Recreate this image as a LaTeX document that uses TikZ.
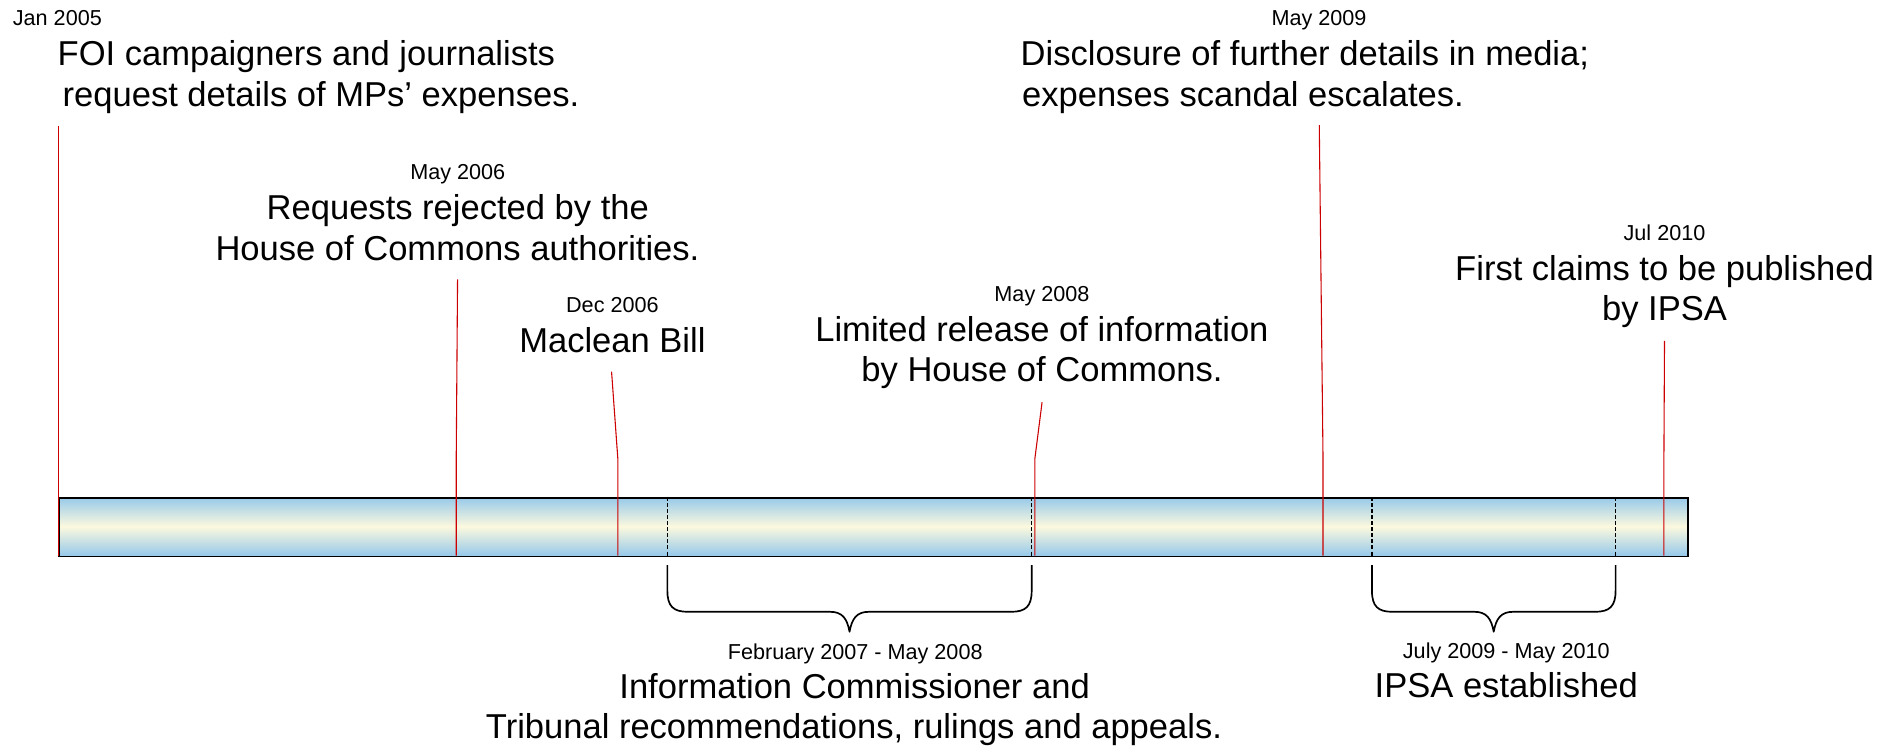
\documentclass[tikz,border=0pt]{standalone}
\usepackage{fontspec}
\setmainfont{Liberation Sans}
\definecolor{barblue}{RGB}{150,201,234}
\definecolor{barcream}{RGB}{252,249,222}
\definecolor{evred}{RGB}{204,0,0}
\tikzset{
  datelbl/.style={font=\fontsize{17.9}{21}\selectfont, inner sep=0pt, anchor=base},
  evlbl/.style={font=\fontsize{28.6}{34}\selectfont, inner sep=0pt, anchor=base},
  evline/.style={evred, line width=0.9pt},
  spanline/.style={black, line width=0.9pt, dash pattern=on 3.3pt off 1.7pt},
  bracket/.style={black, line width=1.4pt, line join=round},
}
\begin{document}
\begin{tikzpicture}[x=1pt,y=-1pt]
\useasboundingbox (0,0) rectangle (1568,620.1);
% bar
\shade[top color=barblue, bottom color=barblue, middle color=barcream] (48.4,411.6) rectangle (1397,460);
\node[draw=black, line width=1.2pt, inner sep=0pt, minimum width=1348.6pt, minimum height=48.4pt, anchor=north west] (bar) at (48.4,411.6) {};
% dashed span marks
\coordinate (f07t) at (552.5,411.6); \coordinate (f07b) at (552.5,460);
\coordinate (m08t) at (854.1,411.6); \coordinate (m08b) at (854.1,460);
\coordinate (j09t) at (1135.8,411.6); \coordinate (j09b) at (1135.8,460);
\coordinate (m10t) at (1337.5,411.6); \coordinate (m10b) at (1337.5,460);
\draw[spanline] (f07t) -- (f07b);
\draw[spanline] (m08t) -- (m08b);
\draw[spanline] (j09t) -- (j09b);
\draw[spanline] (m10t) -- (m10b);
% event texts
\node[datelbl] (d1) at (47.5,21.3) {Jan 2005};
\node[evlbl, anchor=base west] (t1a) at (47.6,54.4) {FOI campaigners and journalists};
\node[evlbl, anchor=base west] (t1b) at (51.7,87.8) {request details of MPs’ expenses.};
\node[datelbl] (d2) at (379,148.5) {May 2006};
\node[evlbl] (t2a) at (379,182) {Requests rejected by the};
\node[evlbl] (t2b) at (378.7,215.3) {House of Commons authorities.};
\node[datelbl] (d3) at (507,258.9) {Dec 2006};
\node[evlbl] (t3a) at (507,292) {Maclean Bill};
\node[datelbl] (d4) at (862.6,249.8) {May 2008};
\node[evlbl] (t4a) at (862.6,283) {Limited release of information};
\node[evlbl] (t4b) at (862.6,316) {by House of Commons.};
\node[datelbl] (d5) at (1092,21.3) {May 2009};
\node[evlbl, anchor=base west] (t5a) at (844.8,54.4) {Disclosure of further details in media;};
\node[evlbl, anchor=base west] (t5b) at (846,87.8) {expenses scandal escalates.};
\node[datelbl] (d6) at (1378,199.5) {Jul 2010};
\node[evlbl] (t6a) at (1378,232.3) {First claims to be published};
\node[evlbl] (t6b) at (1378,265.6) {by IPSA};
% event lines
\coordinate (l1t) at (48.4,104); \coordinate (l1b) at (48.4,460);
\coordinate (l2t) at (378.8,231.3); \coordinate (l2m) at (377.7,380); \coordinate (l2b) at (377.7,460);
\coordinate (l3t) at (506.3,307.7); \coordinate (l3m) at (511.5,380); \coordinate (l3b) at (511.5,460);
\coordinate (l4t) at (862.7,333); \coordinate (l4m) at (856.7,380); \coordinate (l4b) at (856.7,460);
\coordinate (l5t) at (1092.2,103.5); \coordinate (l5m) at (1095.3,380); \coordinate (l5b) at (1095.3,460);
\coordinate (l6t) at (1378,282.3); \coordinate (l6m) at (1377.5,380); \coordinate (l6b) at (1377.5,460);
\draw[evline] (l1t) -- (l1b);
\draw[evline] (l2t) -- (l2m) -- (l2b);
\draw[evline] (l3t) -- (l3m) -- (l3b);
\draw[evline] (l4t) -- (l4m) -- (l4b);
\draw[evline] (l5t) -- (l5m) -- (l5b);
\draw[evline] (l6t) -- (l6m) -- (l6b);
% braces
\draw[bracket] (552.5,467.8) -- (552.5,489) .. controls (552.5,502) and (557.5,506.5) .. (569.5,506.5)
  -- (687.3,506.5) .. controls (697.3,506.5) and (701.3,512) .. (703.3,523)
  .. controls (705.3,512) and (709.3,506.5) .. (719.3,506.5)
  -- (837.1,506.5) .. controls (849.1,506.5) and (854.1,502) .. (854.1,489) -- (854.1,467.8);
\draw[bracket] (1135.8,467.8) -- (1135.8,489) .. controls (1135.8,502) and (1140.8,506.5) .. (1152.8,506.5)
  -- (1220.6,506.5) .. controls (1230.6,506.5) and (1234.6,512) .. (1236.6,523)
  .. controls (1238.6,512) and (1242.6,506.5) .. (1252.6,506.5)
  -- (1320.5,506.5) .. controls (1332.5,506.5) and (1337.5,502) .. (1337.5,489) -- (1337.5,467.8);
% span texts
\node[datelbl] (p1d) at (708,545.9) {February 2007 - May 2008};
\node[evlbl] (p1a) at (707.5,578.2) {Information Commissioner and};
\node[evlbl] (p1b) at (707,611.5) {Tribunal recommendations, rulings and appeals.};
\node[datelbl] (p2d) at (1247,545.5) {July 2009 - May 2010};
\node[evlbl] (p2a) at (1247,577.5) {IPSA established};
\end{tikzpicture}
\end{document}
